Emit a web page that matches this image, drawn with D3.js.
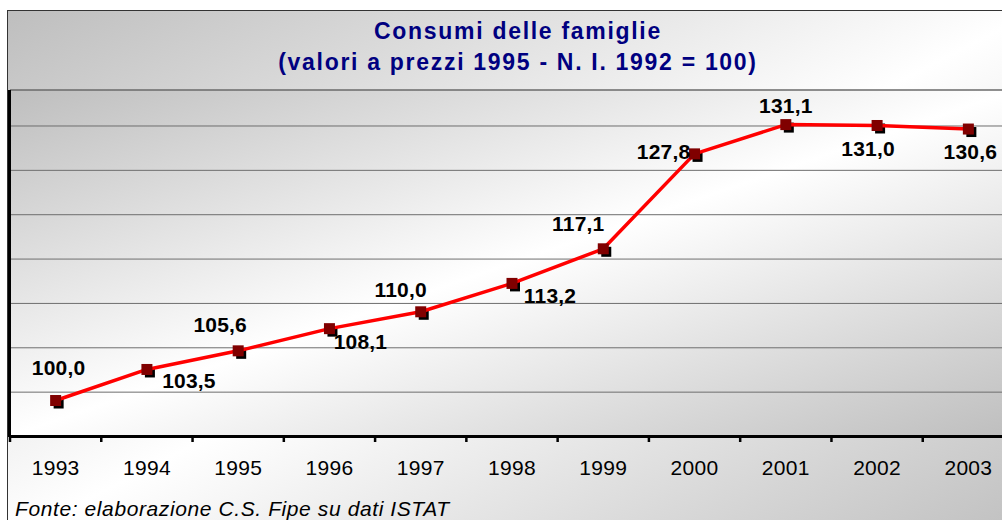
<!DOCTYPE html>
<html>
<head>
<meta charset="utf-8">
<script src="https://cdn.jsdelivr.net/npm/d3@7"></script>
<style>
  body { margin: 0; background: #fff; }
  svg { display: block; font-family: "Liberation Sans", Arial, sans-serif; }
</style>
</head>
<body>
<div id="chart"></div>
<script>
// Data
const years = ["1993", "1994", "1995", "1996", "1997", "1998", "1999", "2000", "2001", "2002", "2003"];
const values = [100.0, 103.5, 105.6, 108.1, 110.0, 113.2, 117.1, 127.8, 131.1, 131.0, 130.6];
const gridValues = [101, 106, 111, 116, 121, 126, 131];
const titleLines = ["Consumi delle famiglie", "(valori a prezzi 1995 - N. I. 1992 = 100)"];
const sourceText = "Fonte: elaborazione C.S. Fipe su dati ISTAT";

// label nudges (dx, dy from the marker), layout only
const labelNudge = [[3, -26], [42, 19], [-18, -19], [31, 20], [-20, -15], [38, 20],
                    [-25, -18], [-31, 5], [0, -12], [-9, 31], [2, 30]];

const W = 1002, H = 520;
const plot = {left: 10, top: 90, right: 1014, bottom: 436};

const svg = d3.select("#chart").append("svg")
    .attr("width", W).attr("height", H);

// diagonal gradient gray - white - gray
const defs = svg.append("defs");
const grad = defs.append("linearGradient")
    .attr("id", "bg").attr("x1", 0).attr("y1", 0).attr("x2", 1).attr("y2", 1);
grad.append("stop").attr("offset", "0%").attr("stop-color", "#bebebe");
grad.append("stop").attr("offset", "50%").attr("stop-color", "#ffffff");
grad.append("stop").attr("offset", "100%").attr("stop-color", "#bebebe");

// chart area
svg.append("rect")
    .attr("x", 7.5).attr("y", 10.5).attr("width", 1030).attr("height", 530)
    .attr("fill", "url(#bg)").attr("stroke", "#333").attr("stroke-width", 1);

// plot area
svg.append("rect")
    .attr("x", plot.left).attr("y", plot.top)
    .attr("width", plot.right - plot.left).attr("height", plot.bottom - plot.top)
    .attr("fill", "url(#bg)");

const x = d3.scaleBand().domain(years).range([plot.left, plot.right]);
const y = d3.scaleLinear().domain([96, 135]).range([plot.bottom, plot.top]);
const cx = d => x(d) + x.bandwidth() / 2;

// gridlines
svg.append("g")
    .attr("transform", `translate(${plot.left},0)`)
    .call(d3.axisLeft(y).tickValues(gridValues).tickSize(-(plot.right - plot.left)).tickFormat(""))
    .call(g => g.select(".domain").remove())
    .call(g => g.selectAll("line").attr("stroke", "#6e6e6e").attr("stroke-width", 1));

// plot top border
svg.append("line")
    .attr("x1", plot.left).attr("x2", plot.right)
    .attr("y1", y(135)).attr("y2", y(135))
    .attr("stroke", "#6a6a6a").attr("stroke-width", 1.5);

// left axis
svg.append("line")
    .attr("x1", plot.left - 0.5).attr("x2", plot.left - 0.5)
    .attr("y1", plot.top).attr("y2", plot.bottom + 1)
    .attr("stroke", "#000").attr("stroke-width", 3);

// bottom axis with ticks between categories
const xAxis = svg.append("g")
    .attr("transform", `translate(0,${plot.bottom})`)
    .call(d3.axisBottom(x).tickSize(0).tickPadding(24))
    .call(g => g.select(".domain").attr("stroke", "#000").attr("stroke-width", 3))
    .call(g => g.selectAll("text")
        .attr("font-size", 21).attr("fill", "#000")
        .attr("letter-spacing", "0.3px")
        .attr("font-family", "'Liberation Sans', Arial, sans-serif"));

const bounds = d3.range(years.length + 1).map(i => plot.left + i * x.step());
xAxis.selectAll("line.sep")
    .data(bounds)
    .join("line")
    .attr("class", "sep")
    .attr("x1", d => d).attr("x2", d => d)
    .attr("y1", 0).attr("y2", 6)
    .attr("stroke", "#000").attr("stroke-width", 2.5);

// marker shadows
svg.append("g").selectAll("rect")
    .data(values)
    .join("rect")
    .attr("x", (d, i) => cx(years[i]) - 5 + 3)
    .attr("y", d => y(d) - 5 + 3)
    .attr("width", 10).attr("height", 10)
    .attr("fill", "#000");

// line
const line = d3.line()
    .x((d, i) => cx(years[i]))
    .y(d => y(d));

svg.append("path")
    .datum(values)
    .attr("d", line)
    .attr("fill", "none")
    .attr("stroke", "#ff0000")
    .attr("stroke-width", 3.5)
    .attr("stroke-linejoin", "round");

// markers
svg.append("g").selectAll("rect")
    .data(values)
    .join("rect")
    .attr("x", (d, i) => cx(years[i]) - 5.5)
    .attr("y", d => y(d) - 5.5)
    .attr("width", 11).attr("height", 11)
    .attr("fill", "#800000");

// data labels
const fmt = v => d3.format(".1f")(v).replace(".", ",");
svg.append("g").selectAll("text")
    .data(values)
    .join("text")
    .attr("x", (d, i) => cx(years[i]) + labelNudge[i][0])
    .attr("y", (d, i) => y(d) + labelNudge[i][1])
    .attr("text-anchor", "middle")
    .attr("font-size", 21)
    .attr("font-weight", "bold")
    .attr("letter-spacing", "0.2px")
    .attr("fill", "#000")
    .text(fmt);

// title
svg.append("g").selectAll("text")
    .data(titleLines)
    .join("text")
    .attr("x", 518)
    .attr("y", (d, i) => 39 + i * 31)
    .attr("text-anchor", "middle")
    .attr("font-size", 23)
    .attr("font-weight", "bold")
    .attr("letter-spacing", "1.7px")
    .attr("fill", "#000080")
    .text(d => d);

// source
svg.append("text")
    .attr("x", 15)
    .attr("y", 516)
    .attr("font-size", 21)
    .attr("font-style", "italic")
    .attr("letter-spacing", "0.6px")
    .attr("fill", "#000")
    .text(sourceText);
</script>
</body>
</html>
